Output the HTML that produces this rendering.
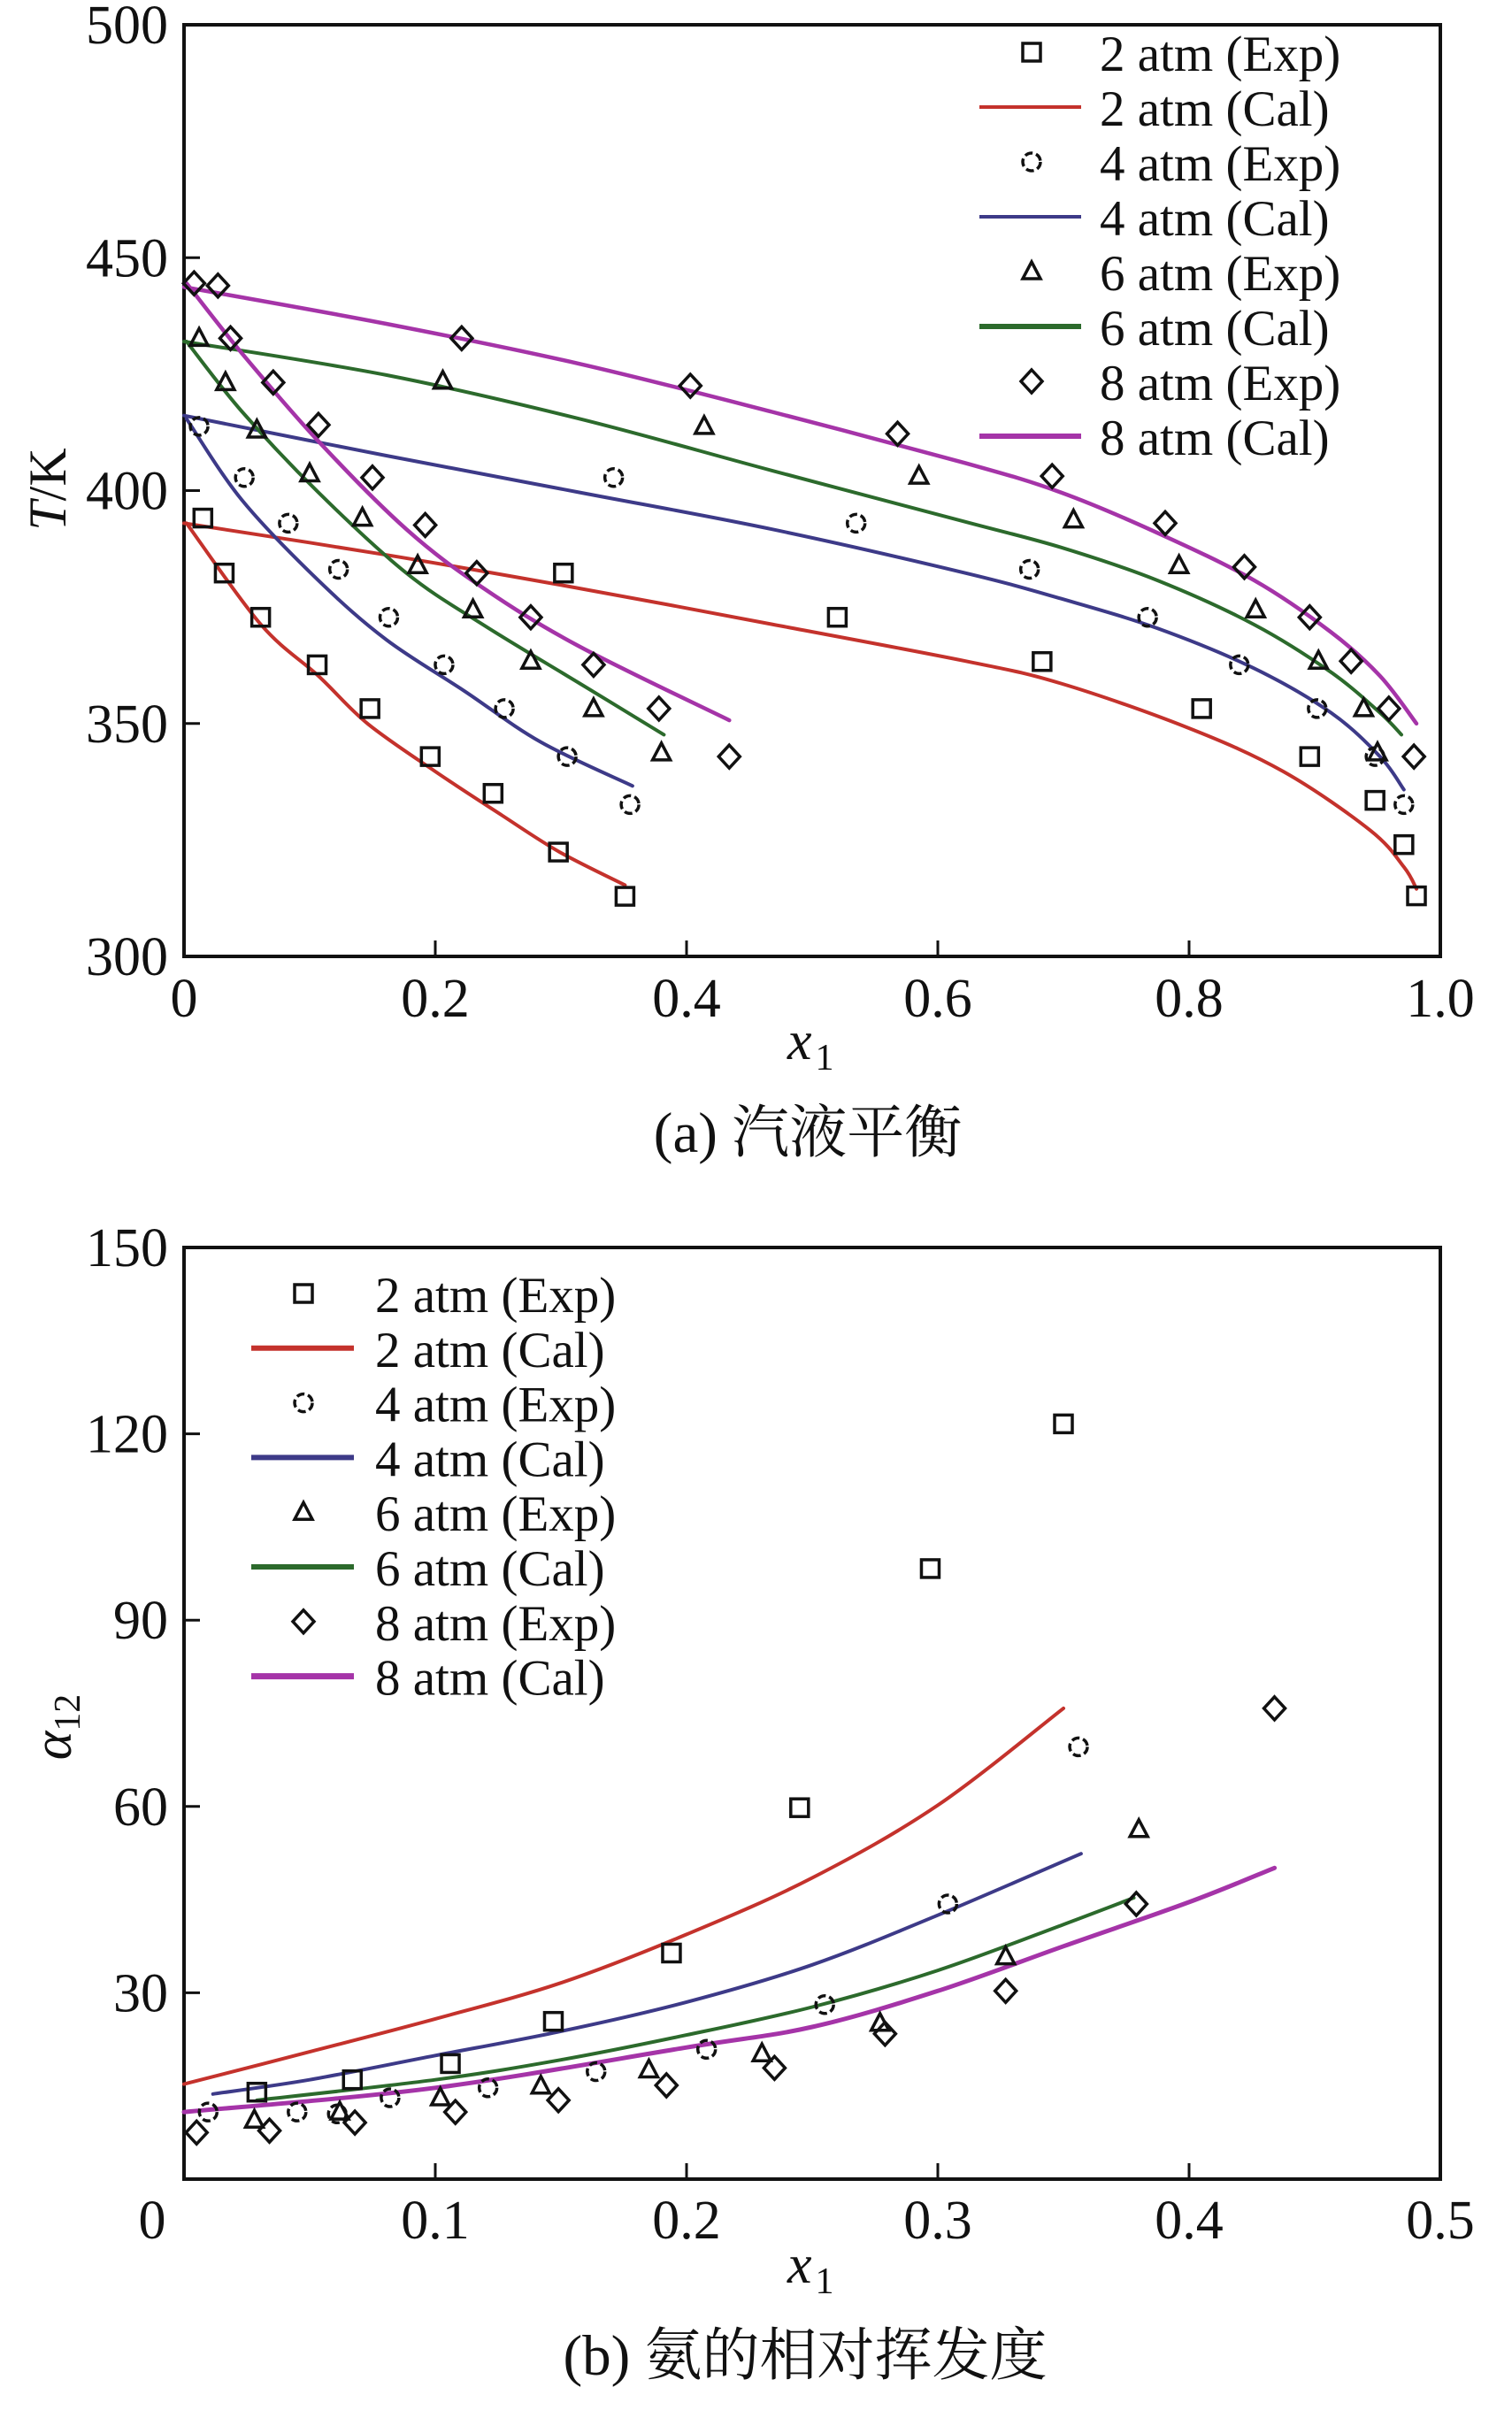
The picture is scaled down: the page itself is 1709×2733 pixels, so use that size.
<!DOCTYPE html>
<html><head><meta charset="utf-8">
<style>
html,body{margin:0;padding:0;background:#fff;}
svg{display:block;}
text{font-family:"Liberation Serif","Noto Serif CJK SC",serif;fill:#111;}
</style></head>
<body>
<svg id="fig" width="1709" height="2733" viewBox="0 0 1709 2733" xmlns="http://www.w3.org/2000/svg">
<g id="pa"></g>
<g id="pb"></g>
</svg>
<script>
// ---------- Chart (a) data: T/K vs x1 ----------
const aXTicks = [0, 0.2, 0.4, 0.6, 0.8, 1.0];
const aXTickLabels = ["0", "0.2", "0.4", "0.6", "0.8", "1.0"];
const aYTicks = [300, 350, 400, 450, 500];
const aYTickLabels = ["300", "350", "400", "450", "500"];

const a2CalDewX = [0.002, 0.061, 0.107, 0.146, 0.2, 0.253, 0.299, 0.351];
const a2CalDewT = [393, 371.3, 360.2, 350, 339.7, 330.3, 322.4, 315.3];
const a2CalBubX = [0, 0.161, 0.315, 0.468, 0.622, 0.698, 0.798, 0.875, 0.944, 0.971, 0.981];
const a2CalBubT = [393, 386.2, 379, 371.3, 363.4, 358.6, 349.2, 339.7, 327.1, 319.2, 314.5];
const a2ExpX = [0.015, 0.032, 0.061, 0.106, 0.148, 0.196, 0.246, 0.298, 0.351, 0.302, 0.52, 0.683, 0.81, 0.896, 0.948, 0.971, 0.981];
const a2ExpT = [394.1, 382.3, 372.8, 362.6, 353.2, 342.9, 335, 322.4, 312.9, 382.3, 372.8, 363.3, 353.2, 342.9, 333.5, 324, 313];

const a4CalDewX = [0.002, 0.046, 0.107, 0.161, 0.223, 0.284, 0.357];
const a4CalDewT = [415.4, 398, 380.7, 368, 357, 346, 336.6];
const a4CalBubX = [0, 0.161, 0.315, 0.468, 0.622, 0.698, 0.775, 0.852, 0.913, 0.952, 0.971];
const a4CalBubT = [416.1, 407.5, 399.6, 391.7, 382.3, 376.8, 370.4, 361.8, 352.3, 342.9, 335.8];
const a4ExpX = [0.012, 0.048, 0.083, 0.123, 0.163, 0.207, 0.255, 0.305, 0.355, 0.342, 0.535, 0.673, 0.767, 0.84, 0.902, 0.948, 0.971];
const a4ExpT = [413.8, 402.8, 393, 383.1, 372.8, 362.6, 353.2, 342.9, 332.6, 402.8, 393, 383.1, 372.8, 362.6, 353.2, 342.9, 332.6];

const a6CalDewX = [0.002, 0.046, 0.107, 0.177, 0.238, 0.315, 0.382];
const a6CalDewT = [432, 417, 399.6, 382.3, 371.2, 358.6, 347.6];
const a6CalBubX = [0, 0.161, 0.315, 0.468, 0.622, 0.698, 0.775, 0.852, 0.913, 0.952, 0.969];
const a6CalBubT = [432, 424.8, 415.4, 404.3, 393.3, 387.8, 380.7, 371.2, 361, 352.3, 347.6];
const a6ExpX = [0.012, 0.033, 0.058, 0.1, 0.142, 0.186, 0.23, 0.276, 0.326, 0.38, 0.206, 0.414, 0.585, 0.708, 0.792, 0.853, 0.903, 0.939, 0.95];
const a6ExpT = [432.7, 423.2, 413, 403.6, 394.1, 383.9, 374.4, 363.4, 353.2, 343.7, 423.5, 413.8, 403.1, 393.7, 383.9, 374.4, 363.4, 353.2, 343.7];

const a8CalDewX = [0.002, 0.046, 0.107, 0.177, 0.238, 0.315, 0.434];
const a8CalDewT = [444.5, 429.5, 410.6, 391.7, 379.1, 366.5, 350.7];
const a8CalBubX = [0, 0.161, 0.315, 0.468, 0.622, 0.698, 0.775, 0.852, 0.913, 0.952, 0.981];
const a8CalBubT = [443.7, 435.8, 427.2, 416.9, 405.9, 399.6, 390.9, 380.7, 369.6, 360.2, 350];
const a8ExpX = [0.008, 0.037, 0.071, 0.107, 0.15, 0.192, 0.233, 0.276, 0.326, 0.378, 0.434, 0.027, 0.221, 0.403, 0.568, 0.691, 0.781, 0.844, 0.896, 0.929, 0.959, 0.979];
const a8ExpT = [444.5, 432.7, 423.2, 414.1, 402.8, 392.6, 382.3, 372.8, 362.6, 353.2, 342.9, 444, 432.7, 422.5, 412.2, 403.1, 393, 383.6, 372.8, 363.4, 353.2, 342.9];

// ---------- Chart (b) data: alpha12 vs x1 ----------
const bXTicks = [0.1, 0.2, 0.3, 0.4, 0.5];
const bXTickLabels = ["0.1", "0.2", "0.3", "0.4", "0.5"];
const bYTicks = [30, 60, 90, 120, 150];
const bYTickLabels = ["30", "60", "90", "120", "150"];

const b2CalX = [0, 0.05, 0.1, 0.15, 0.2, 0.25, 0.3, 0.35];
const b2CalY = [15.3, 20.5, 25.8, 31.6, 39.4, 48.5, 60.2, 75.8];
const b2ExpX = [0.029, 0.067, 0.106, 0.147, 0.194, 0.245, 0.297, 0.35];
const b2ExpY = [14, 16, 18.6, 25.4, 36.4, 59.8, 98.3, 121.6];

const b4CalX = [0.0115, 0.05, 0.1, 0.15, 0.2, 0.25, 0.3, 0.357];
const b4CalY = [13.7, 16, 19.9, 23.8, 28.5, 34.5, 42.5, 52.4];
const b4ExpX = [0.0096, 0.045, 0.061, 0.082, 0.121, 0.164, 0.208, 0.255, 0.304, 0.356];
const b4ExpY = [10.8, 10.8, 10.5, 13.1, 14.7, 17.3, 20.9, 28.1, 44.3, 69.6];

const b6CalX = [0.029, 0.1, 0.15, 0.2, 0.25, 0.3, 0.35, 0.378];
const b6CalY = [12.7, 16, 19.2, 23.2, 27.7, 33.6, 41, 45.3];
const b6ExpX = [0.028, 0.062, 0.102, 0.142, 0.185, 0.23, 0.277, 0.327, 0.38];
const b6ExpY = [9.5, 10.8, 13.1, 15, 17.6, 20.2, 25.1, 35.8, 56.3];

const b8CalX = [0, 0.1, 0.2, 0.25, 0.3, 0.35, 0.4, 0.434];
const b8CalY = [10.8, 14.7, 21.2, 24.5, 30.3, 37.5, 44.6, 50.1];
const b8ExpX = [0.005, 0.034, 0.068, 0.108, 0.149, 0.192, 0.235, 0.279, 0.327, 0.379, 0.434];
const b8ExpY = [7.5, 7.8, 9.1, 10.8, 12.7, 15.1, 17.9, 23.4, 30.3, 44.3, 75.8];

const legendLabels = ["2 atm (Exp)", "2 atm (Cal)", "4 atm (Exp)", "4 atm (Cal)", "6 atm (Exp)", "6 atm (Cal)", "8 atm (Exp)", "8 atm (Cal)"];

const NS = "http://www.w3.org/2000/svg";
const COL = {r:"#c4322c", b:"#3d3a88", g:"#2c6a2c", m:"#a534a8"};

function mk(tag, attrs, parent){
  const e = document.createElementNS(NS, tag);
  for (const k in attrs) e.setAttribute(k, attrs[k]);
  parent.appendChild(e);
  return e;
}
function linScale(d0, d1, r0, r1){ return v => r0 + (v - d0) / (d1 - d0) * (r1 - r0); }

function drawLine(g, xs, ys, sx, sy, color, w, name){
  const P = xs.map((x, i) => [sx(x), sy(ys[i])]);
  let d = "M" + P[0][0].toFixed(1) + "," + P[0][1].toFixed(1);
  for (let i = 0; i < P.length - 1; i++){
    const p0 = P[Math.max(0, i - 1)], p1 = P[i], p2 = P[i + 1], p3 = P[Math.min(P.length - 1, i + 2)];
    const c1 = [p1[0] + (p2[0] - p0[0]) / 6, p1[1] + (p2[1] - p0[1]) / 6];
    const c2 = [p2[0] - (p3[0] - p1[0]) / 6, p2[1] - (p3[1] - p1[1]) / 6];
    d += "C" + c1[0].toFixed(1) + "," + c1[1].toFixed(1) + " " + c2[0].toFixed(1) + "," + c2[1].toFixed(1) + " " + p2[0].toFixed(1) + "," + p2[1].toFixed(1);
  }
  const p = mk("path", {d:d, fill:"none", stroke:color, "stroke-width":w, "stroke-linejoin":"round", "stroke-linecap":"round"}, g);
  
  
}
function marker(g, type, cx, cy, name){
  const s = 10, sw = 3.5;
  let e;
  if (type === "sq") e = mk("rect", {x:cx - s, y:cy - s, width:2*s, height:2*s, fill:"none", stroke:"#111", "stroke-width":sw}, g);
  else if (type === "ci") e = mk("circle", {cx:cx, cy:cy, r:s, fill:"none", stroke:"#111", "stroke-width":sw, "stroke-dasharray":"9 4"}, g);
  else if (type === "tr") e = mk("polygon", {points:`${cx},${cy - s - 1} ${cx + s},${cy + s - 2} ${cx - s},${cy + s - 2}`, fill:"none", stroke:"#111", "stroke-width":sw}, g);
  else e = mk("polygon", {points:`${cx},${cy - 13} ${cx + 12},${cy} ${cx},${cy + 13} ${cx - 12},${cy}`, fill:"none", stroke:"#111", "stroke-width":sw}, g);
  
  
}
function drawPoints(g, xs, ys, sx, sy, type, name){
  for (let i = 0; i < xs.length; i++) marker(g, type, sx(xs[i]), sy(ys[i]), name);
}
function txt(g, x, y, s, size, anchor, name, extra){
  const t = mk("text", Object.assign({x:x, y:y, "font-size":size, "text-anchor":anchor || "start"}, extra || {}), g);
  t.textContent = s;
  
  
  return t;
}
function frame(g, L, T, R, B){
  const r = mk("rect", {x:L, y:T, width:R - L, height:B - T, fill:"none", stroke:"#111", "stroke-width":4}, g);
  
  
}
function legend(g, mx, lx0, lx1, tx, y0, dy, entries){
  for (let i = 0; i < entries.length; i++){
    const cy = y0 + i * dy, en = entries[i];
    if (en.type) marker(g, en.type, mx, cy, 'legend-marker');
    else {
      const l = mk("line", {x1:lx0, y1:cy, x2:lx1, y2:cy, stroke:en.color, "stroke-width":en.w}, g);
      
      
    }
    txt(g, tx, cy + 21, legendLabels[i], 57, "start", 'legend-entry');
  }
}

// ---------- Draw chart (a) ----------
(function(){
  const g = document.getElementById("pa");
  const L = 208, R = 1628, T = 28, B = 1081;
  const sx = linScale(0, 1, L, R), sy = linScale(300, 500, B, T);
  frame(g, L, T, R, B);
  aXTicks.forEach((v, i) => {
    if (i > 0 && i < aXTicks.length - 1){
      const t = mk("line", {x1:sx(v), y1:B, x2:sx(v), y2:B - 18, stroke:"#111", "stroke-width":3}, g);
       
    }
    txt(g, sx(v), 1149, aXTickLabels[i], 62, "middle", 'x-tick-label');
  });
  aYTicks.forEach((v, i) => {
    if (i > 0 && i < aYTicks.length - 1){
      const t = mk("line", {x1:L, y1:sy(v), x2:L + 18, y2:sy(v), stroke:"#111", "stroke-width":3}, g);
       
    }
    txt(g, 190, sy(v) + 21, aYTickLabels[i], 62, "end", 'y-tick-label');
  });
  drawLine(g, a2CalDewX, a2CalDewT, sx, sy, COL.r, 4, '2atm-cal-dew');
  drawLine(g, a2CalBubX, a2CalBubT, sx, sy, COL.r, 4, '2atm-cal-bubble');
  drawLine(g, a4CalDewX, a4CalDewT, sx, sy, COL.b, 4, '4atm-cal-dew');
  drawLine(g, a4CalBubX, a4CalBubT, sx, sy, COL.b, 4, '4atm-cal-bubble');
  drawLine(g, a6CalDewX, a6CalDewT, sx, sy, COL.g, 4, '6atm-cal-dew');
  drawLine(g, a6CalBubX, a6CalBubT, sx, sy, COL.g, 4, '6atm-cal-bubble');
  drawLine(g, a8CalDewX, a8CalDewT, sx, sy, COL.m, 4.5, '8atm-cal-dew');
  drawLine(g, a8CalBubX, a8CalBubT, sx, sy, COL.m, 4.5, '8atm-cal-bubble');
  drawPoints(g, a2ExpX, a2ExpT, sx, sy, "sq", '2atm-exp-point');
  drawPoints(g, a4ExpX, a4ExpT, sx, sy, "ci", '4atm-exp-point');
  drawPoints(g, a6ExpX, a6ExpT, sx, sy, "tr", '6atm-exp-point');
  drawPoints(g, a8ExpX, a8ExpT, sx, sy, "di", '8atm-exp-point');
  legend(g, 1166, 1107, 1222, 1243, 59, 62, [
    {type:"sq"}, {color:COL.r, w:4}, {type:"ci"}, {color:COL.b, w:4},
    {type:"tr"}, {color:COL.g, w:6}, {type:"di"}, {color:COL.m, w:6}]);
  const yl = txt(g, 0, 0, "", 60, "middle", 'y-axis-title', {transform:"translate(74,553) rotate(-90)"});
  const t1 = mk("tspan", {"font-style":"italic"}, yl); t1.textContent = "T";
  const t2 = mk("tspan", {}, yl); t2.textContent = "/K";
  const xl = txt(g, 890, 1197, "", 62, "start", 'x-axis-title');
  const x1 = mk("tspan", {"font-style":"italic"}, xl); x1.textContent = "x";
  const x2 = mk("tspan", {"font-size":42, dy:12, dx:4}, xl); x2.textContent = "1";
  txt(g, 913, 1302, "(a) 汽液平衡", 65, "middle", 'caption-a');
})();

// ---------- Draw chart (b) ----------
(function(){
  const g = document.getElementById("pb");
  const L = 208, R = 1628, T = 1410, B = 2463;
  const sx = linScale(0, 0.5, L, R), sy = linScale(0, 150, B, T);
  frame(g, L, T, R, B);
  bXTicks.forEach((v, i) => {
    if (i < bXTicks.length - 1){
      const t = mk("line", {x1:sx(v), y1:B, x2:sx(v), y2:B - 18, stroke:"#111", "stroke-width":3}, g);
       
    }
    txt(g, sx(v), 2530, bXTickLabels[i], 62, "middle", 'x-tick-label');
  });
  txt(g, 172, 2530, "0", 62, "middle", 'origin-label');
  bYTicks.forEach((v, i) => {
    if (i < bYTicks.length - 1){
      const t = mk("line", {x1:L, y1:sy(v), x2:L + 18, y2:sy(v), stroke:"#111", "stroke-width":3}, g);
       
    }
    txt(g, 190, sy(v) + 21, bYTickLabels[i], 62, "end", 'y-tick-label');
  });
  drawLine(g, b2CalX, b2CalY, sx, sy, COL.r, 4, '2atm-cal-line');
  drawLine(g, b4CalX, b4CalY, sx, sy, COL.b, 4, '4atm-cal-line');
  drawLine(g, b6CalX, b6CalY, sx, sy, COL.g, 4, '6atm-cal-line');
  drawLine(g, b8CalX, b8CalY, sx, sy, COL.m, 5, '8atm-cal-line');
  drawPoints(g, b2ExpX, b2ExpY, sx, sy, "sq", '2atm-exp-point');
  drawPoints(g, b4ExpX, b4ExpY, sx, sy, "ci", '4atm-exp-point');
  drawPoints(g, b6ExpX, b6ExpY, sx, sy, "tr", '6atm-exp-point');
  drawPoints(g, b8ExpX, b8ExpY, sx, sy, "di", '8atm-exp-point');
  legend(g, 343, 284, 400, 424, 1462, 61.8, [
    {type:"sq"}, {color:COL.r, w:6}, {type:"ci"}, {color:COL.b, w:6},
    {type:"tr"}, {color:COL.g, w:6}, {type:"di"}, {color:COL.m, w:7}]);
  const yl = txt(g, 0, 0, "", 62, "middle", 'y-axis-title', {transform:"translate(80,1952) rotate(-90)"});
  const a1 = mk("tspan", {"font-style":"italic"}, yl); a1.textContent = "α";
  const a2 = mk("tspan", {"font-size":42, dy:10}, yl); a2.textContent = "12";
  const xl = txt(g, 890, 2580, "", 62, "start", 'x-axis-title');
  const x1 = mk("tspan", {"font-style":"italic"}, xl); x1.textContent = "x";
  const x2 = mk("tspan", {"font-size":42, dy:12, dx:4}, xl); x2.textContent = "1";
  txt(g, 910, 2684, "(b) 氨的相对挥发度", 65, "middle", 'caption-b');
})();
</script>
</body></html>
